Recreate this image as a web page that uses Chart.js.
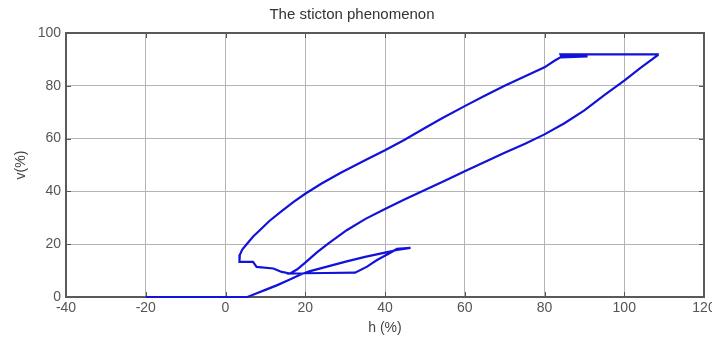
<!DOCTYPE html>
<html>
<head>
<meta charset="utf-8">
<script src="https://cdn.jsdelivr.net/npm/chart.js@4/dist/chart.umd.min.js"></script>
<style>
  html, body { margin: 0; padding: 0; background: #fff; }
  #wrap { width: 712px; height: 338px; }
</style>
</head>
<body>
<div id="wrap"><canvas id="stictionChart"></canvas></div>
<script>
// h (%) controller output, v (%) valve position, in drawing order
const hPct = [
    -20, 5.5,
    8, 10, 13, 16, 18.7, 21, 25, 30.4, 35, 40, 43, 46.4,
    43, 41, 38, 35.5, 32.5, 25, 20, 16.2,
    18, 20, 23, 26, 30.4, 35, 40, 45, 50, 55, 60, 65, 70, 75, 80, 85, 90, 95, 100, 104, 108.4,
    108.4, 84, 84.2, 90.8, 84,
    82.5, 80, 75, 70, 65, 60, 54.2, 50, 44.7, 40, 35, 28.8, 24, 20, 17, 14, 11, 8.6, 7, 5.3, 4.2, 3.6, 3.5,
    6.9, 7.8, 12, 14.1, 16.2
];
const vPct = [
    0, 0,
    1.5, 2.7, 4.5, 6.5, 8.4, 9.7, 11.3, 13.5, 15.2, 16.8, 17.8, 18.6,
    18.2, 16.5, 14, 11.5, 9.2, 9.1, 9, 8.9,
    10.5, 13, 17, 20.5, 25.3, 29.5, 33.3, 37, 40.5, 44, 47.6, 51.1, 54.6, 58, 61.6, 65.8, 70.7, 76.5, 82, 86.7, 91.6,
    91.9, 91.9, 91.1, 91.1, 90.8,
    89.5, 87, 83.5, 80, 76.2, 72.3, 67.6, 64, 59.4, 55.6, 51.8, 47, 42.9, 39.1, 35.9, 32.4, 28.8, 25.3, 23, 20, 18, 16, 13.3,
    13.3, 11.4, 10.8, 9.5, 8.9
];
const xTicks = [-40, -20, 0, 20, 40, 60, 80, 100, 120];
const yTicks = [0, 20, 40, 60, 80, 100];

const points = hPct.map((h, i) => ({ x: h, y: vPct[i] }));
const fontFamily = 'Liberation Sans, Arial, sans-serif';

// box round the axes and inward ticks on all four sides
const boxPlugin = {
    id: 'box',
    beforeDatasetsDraw(chart) {
        const { ctx, chartArea: a, scales } = chart;
        const seg = (x1, y1, x2, y2) => { ctx.beginPath(); ctx.moveTo(x1, y1); ctx.lineTo(x2, y2); ctx.stroke(); };
        ctx.save();
        ctx.strokeStyle = '#555';
        ctx.lineWidth = 1;
        xTicks.forEach(t => {
            const px = Math.round(scales.x.getPixelForValue(t)) + 0.5;
            seg(px, a.bottom, px, a.bottom - 5);
            seg(px, a.top, px, a.top + 5);
        });
        yTicks.forEach(t => {
            const py = Math.round(scales.y.getPixelForValue(t)) + 0.5;
            seg(a.left, py, a.left + 5, py);
            seg(a.right, py, a.right - 5, py);
        });
        ctx.lineWidth = 2;
        ctx.strokeStyle = '#5a5a5a';
        ctx.strokeRect(a.left, a.top, a.right - a.left, a.bottom - a.top);
        ctx.restore();
    }
};

new Chart(document.getElementById('stictionChart'), {
    type: 'scatter',
    data: {
        datasets: [{
            data: points,
            showLine: true,
            borderColor: '#1212d8',
            borderWidth: 2.2,
            pointRadius: 0,
            tension: 0,
            clip: 4
        }]
    },
    options: {
        responsive: true,
        maintainAspectRatio: false,
        animation: false,
        layout: { padding: { left: 0, right: 8, top: 0, bottom: 0 } },
        plugins: {
            legend: { display: false },
            tooltip: { enabled: false },
            title: {
                display: true,
                text: 'The sticton phenomenon',
                color: '#333',
                font: { family: fontFamily, size: 15, weight: 'normal' },
                padding: { top: 6, bottom: 9 }
            }
        },
        scales: {
            x: {
                type: 'linear',
                min: -40,
                max: 120,
                afterBuildTicks: s => { s.ticks = xTicks.map(v => ({ value: v })); },
                afterFit: s => { s.height = 41; s.paddingLeft = 0; s.paddingRight = 0; },
                ticks: {
                    color: '#555',
                    padding: 3,
                    maxRotation: 0,
                    autoSkip: false,
                    font: { family: fontFamily, size: 14 }
                },
                grid: { color: '#b4b4b4', lineWidth: 1, drawTicks: false },
                border: { display: false },
                title: {
                    display: true,
                    text: 'h (%)',
                    color: '#444',
                    font: { family: fontFamily, size: 14 },
                    padding: { top: 0, bottom: 1 }
                }
            },
            y: {
                type: 'linear',
                min: 0,
                max: 100,
                afterBuildTicks: s => { s.ticks = yTicks.map(v => ({ value: v })); },
                afterFit: s => { s.width = 66; s.paddingTop = 0; s.paddingBottom = 0; },
                ticks: {
                    color: '#555',
                    padding: 5,
                    font: { family: fontFamily, size: 14 }
                },
                grid: { color: '#b4b4b4', lineWidth: 1, drawTicks: false },
                border: { display: false },
                title: {
                    display: true,
                    text: 'v(%)',
                    color: '#444',
                    font: { family: fontFamily, size: 14 },
                    padding: { top: 13, bottom: 0 }
                }
            }
        }
    },
    plugins: [boxPlugin]
});
</script>
</body>
</html>
